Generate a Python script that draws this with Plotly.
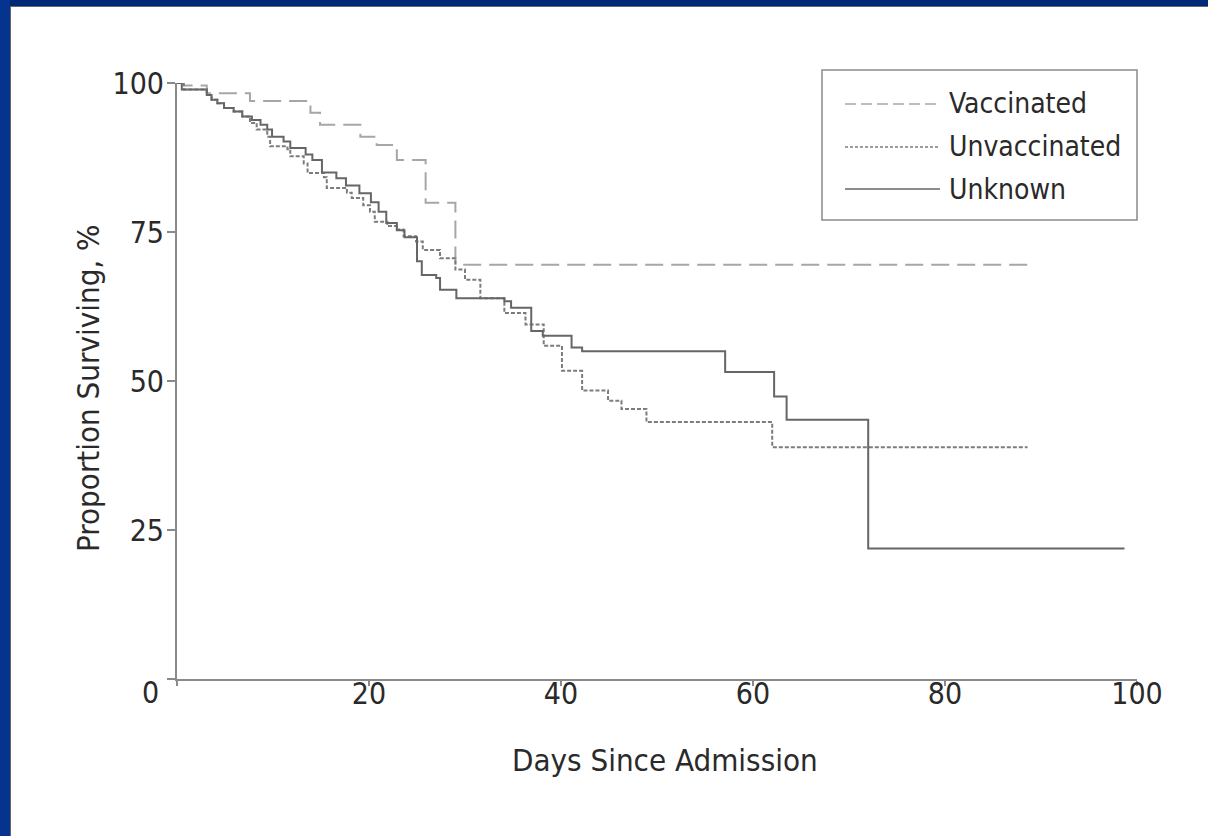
import plotly.graph_objects as go

# ---- data ----
vacc_days = [0, 0.7, 3.1, 7.6, 13.9, 14.9, 19.1, 20.8, 22.9, 25.9, 29.0, 89.2]
vacc_surv = [100, 99.6, 98.3, 97.0, 95.0, 93.0, 91.0, 89.6, 87.1, 79.9, 69.5, 69.5]

unvac_days = [0, 0.7, 3.1, 3.6, 4.2, 4.9, 5.9, 6.8, 7.6, 8.3, 9.4, 9.7, 11.5, 11.8, 13.2,
              13.6, 15.3, 15.6, 17.7, 18.2, 19.4, 20.1, 20.6, 21.9, 22.9, 23.6, 24.9,
              25.6, 27.4, 29.0, 30.0, 31.6, 34.1, 36.3, 38.2, 40.1, 42.2, 44.9, 46.3,
              48.9, 62.0, 88.6]
unvac_surv = [100, 98.9, 98.0, 97.2, 96.6, 95.8, 95.2, 94.4, 93.3, 92.2, 91.0, 89.4, 88.9,
              87.7, 86.5, 84.9, 84.2, 82.4, 81.6, 80.7, 79.5, 78.4, 76.7, 76.0, 75.4,
              74.3, 73.4, 72.0, 70.6, 68.7, 67.0, 63.9, 61.4, 59.5, 55.9, 51.7, 48.4,
              46.7, 45.3, 43.1, 38.9, 38.9]

unk_days = [0, 0.5, 3.1, 3.6, 4.2, 4.9, 5.9, 6.8, 7.8, 8.7, 9.4, 9.9, 11.1, 11.8, 13.4,
            14.1, 15.1, 16.6, 17.6, 19.0, 20.2, 21.0, 21.8, 22.9, 23.7, 25.0, 25.5,
            27.0, 27.4, 29.1, 34.1, 34.8, 36.9, 38.1, 41.1, 42.2, 57.1, 62.2, 63.5,
            72.0, 98.7]
unk_surv = [100, 98.9, 98.0, 97.2, 96.6, 95.8, 95.2, 94.4, 93.8, 93.0, 92.2, 91.0, 90.2,
            89.1, 88.0, 87.1, 85.0, 84.0, 82.8, 81.5, 80.0, 78.4, 76.5, 75.3, 74.1,
            70.1, 67.8, 67.3, 65.3, 63.9, 63.4, 62.3, 58.4, 57.6, 55.6, 55.0, 51.5,
            47.4, 43.5, 21.9, 21.9]

series_names = ["Vaccinated", "Unvaccinated", "Unknown"]
x_ticks = [0, 20, 40, 60, 80, 100]
x_labels = ["", "20", "40", "60", "80", "100"]
y_ticks = [0, 25, 50, 75, 100]
y_labels = ["", "25", "50", "75", "100"]

FONT = "Liberation Sans Narrow, DejaVu Sans Condensed, Arial Narrow, sans-serif"
TXT = "#2a2a2a"
AX = "#8a8a8a"

styles = {
    "Vaccinated": dict(color="#a6a6a6", width=2, dash="18px,8px"),
    "Unvaccinated": dict(color="#7c7c7c", width=2, dash="4px,2px"),
    "Unknown": dict(color="#666666", width=2, dash="solid"),
}
legend_dash = {"Vaccinated": "11px,5px", "Unvaccinated": "3px,2px", "Unknown": "solid"}

W, H = 1208, 836
L, R, T, B = 177, 1137, 83, 679  # plot area in px


def px(xp):
    return (xp - L) / (R - L)


def py(yp):
    return (B - yp) / (B - T)


fig = go.Figure()
for name, xs, ys in [("Vaccinated", vacc_days, vacc_surv),
                     ("Unvaccinated", unvac_days, unvac_surv),
                     ("Unknown", unk_days, unk_surv)]:
    fig.add_trace(go.Scatter(x=xs, y=ys, mode="lines", name=name,
                             line=dict(shape="hv", **styles[name]),
                             showlegend=False))

shapes = []
annotations = []

# blue frame (top and left) of the slide
shapes.append(dict(type="rect", xref="paper", yref="paper", x0=px(0), x1=px(W), y0=py(6), y1=py(0),
                   fillcolor="#002a78", line=dict(width=0), layer="above"))
shapes.append(dict(type="rect", xref="paper", yref="paper", x0=px(0), x1=px(10), y0=py(H), y1=py(0),
                   fillcolor="#05348f", line=dict(width=0), layer="above"))
shapes.append(dict(type="line", xref="paper", yref="paper", x0=px(10), x1=px(W), y0=py(6.5), y1=py(6.5),
                   line=dict(color="#666666", width=1)))
shapes.append(dict(type="line", xref="paper", yref="paper", x0=px(10.5), x1=px(10.5), y0=py(H), y1=py(6),
                   line=dict(color="#666666", width=1)))

# legend box
shapes.append(dict(type="rect", xref="paper", yref="paper", x0=px(822), x1=px(1137), y0=py(220), y1=py(70),
                   line=dict(color="#8a8a8a", width=1.5), fillcolor="rgba(0,0,0,0)"))
for i, name in enumerate(series_names):
    yc = [104, 147, 189][i]
    shapes.append(dict(type="line", xref="paper", yref="paper", x0=px(845), x1=px(940),
                       y0=py(yc), y1=py(yc),
                       line=dict(color=styles[name]["color"], width=1.5, dash=legend_dash[name])))
    annotations.append(dict(text=name, xref="paper", yref="paper", x=px(947), y=py(yc),
                            xanchor="left", yanchor="middle", showarrow=False,
                            font=dict(family=FONT, size=28, color=TXT)))

# corner zero label
annotations.append(dict(text="0", xref="paper", yref="paper", x=px(161), y=py(692),
                        xanchor="right", yanchor="middle", showarrow=False,
                        font=dict(family=FONT, size=30, color=TXT)))
# axis titles
annotations.append(dict(text="Days Since Admission", xref="paper", yref="paper", x=px(665), y=py(760),
                        xanchor="center", yanchor="middle", showarrow=False,
                        font=dict(family=FONT, size=31, color=TXT)))
annotations.append(dict(text="Proportion Surviving, %", xref="paper", yref="paper", x=px(88), y=py(388),
                        xanchor="center", yanchor="middle", showarrow=False, textangle=-90,
                        font=dict(family=FONT, size=31, color=TXT)))

fig.update_layout(
    width=W, height=H,
    margin=dict(l=L, r=W - R, t=T, b=H - B, pad=0),
    paper_bgcolor="white", plot_bgcolor="white",
    showlegend=False,
    shapes=shapes, annotations=annotations,
    xaxis=dict(range=[0, 100], tickvals=x_ticks, ticktext=x_labels, showgrid=False, zeroline=False,
               showline=True, linecolor=AX, linewidth=2, ticks="outside", ticklen=5, tickwidth=2,
               tickcolor=AX, tickfont=dict(family=FONT, size=30, color=TXT), automargin=False,
               ticklabelstandoff=-18, fixedrange=True),
    yaxis=dict(range=[0, 100], tickvals=y_ticks, ticktext=y_labels, showgrid=False, zeroline=False,
               showline=True, linecolor=AX, linewidth=2, ticks="outside", ticklen=8, tickwidth=2,
               tickcolor=AX, tickfont=dict(family=FONT, size=30, color=TXT), automargin=False,
               ticklabelstandoff=-3, fixedrange=True),
)

fig.write_html("out.html", config={"displayModeBar": False},
               post_script="document.body.style.margin='0';document.body.style.overflow='hidden';")
